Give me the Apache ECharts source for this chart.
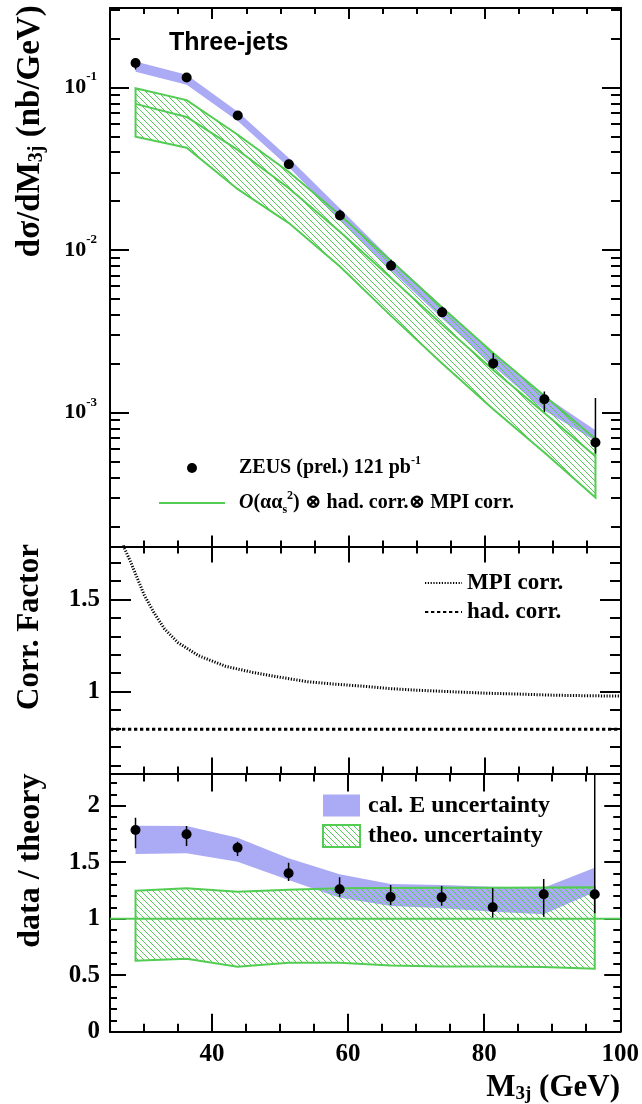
<!DOCTYPE html>
<html><head><meta charset="utf-8">
<script src="https://cdn.jsdelivr.net/npm/echarts@6/dist/echarts.min.js"></script>
<style>html,body{margin:0;padding:0;background:#fff}#chart{width:642px;height:1104px;background:#fff}</style>
</head><body><div id="chart"></div>
<script>
// ---------------- data ----------------
const massBins = [28.75, 36.25, 43.75, 51.25, 58.75, 66.25, 73.75, 81.25, 88.75, 96.25];
// cross section panel (nb/GeV)
const xsecData   = [0.1416, 0.1152, 0.0673, 0.0337, 0.01633, 0.00802, 0.00414, 0.00201, 0.00121, 0.000655];
const xsecErrHi  = [0.150, 0.120, 0.0695, 0.0360, 0.01773, 0.00873, 0.00449, 0.00232, 0.00135, 0.00123];
const xsecErrLo  = [0.129, 0.1083, 0.0643, 0.0322, 0.01549, 0.00754, 0.00388, 0.00184, 0.00101, 0.00056];
const xsecCalHi  = [0.1446, 0.1200, 0.0710, 0.0369, 0.01805, 0.00879, 0.00452, 0.00234, 0.00127, 0.00078];
const xsecCalLo  = [0.1248, 0.1041, 0.0622, 0.0323, 0.01537, 0.00748, 0.00380, 0.00194, 0.00103, 0.00067];
const theoCentral = [0.0793, 0.0659, 0.0413, 0.0240, 0.01296, 0.00673, 0.00348, 0.00183, 0.000995, 0.000539];
const theoHi      = [0.0990, 0.0836, 0.0512, 0.0302, 0.01645, 0.00856, 0.00443, 0.00233, 0.00127, 0.000689];
const theoLo      = [0.0498, 0.0426, 0.0237, 0.01466, 0.00792, 0.00394, 0.00201, 0.00105, 0.000569, 0.000301];
// correction factor panel
const mpiMass = [26.5, 27, 28, 29, 30, 31.5, 33, 35, 38, 42, 46, 50, 54, 58, 62, 66, 70, 75, 80, 85, 90, 95, 100];
const mpiCorr = [1.85, 1.785, 1.705, 1.615, 1.525, 1.425, 1.34, 1.265, 1.195, 1.137, 1.104, 1.078, 1.054, 1.041, 1.030, 1.017, 1.008, 1.000, 0.992, 0.987, 0.981, 0.978, 0.976];
const hadMass = [25, 100];
const hadCorr = [0.797, 0.797];
// data / theory panel
const ratioData   = [1.785, 1.747, 1.628, 1.402, 1.260, 1.192, 1.189, 1.101, 1.216, 1.216];
const ratioErrHi  = [1.894, 1.820, 1.681, 1.496, 1.366, 1.298, 1.289, 1.269, 1.351, 2.45];
const ratioErrLo  = [1.623, 1.643, 1.555, 1.334, 1.195, 1.121, 1.115, 1.009, 1.018, 1.048];
const ratioCalHi  = [1.823, 1.820, 1.717, 1.534, 1.393, 1.307, 1.298, 1.283, 1.274, 1.451];
const ratioCalLo  = [1.573, 1.579, 1.504, 1.342, 1.186, 1.112, 1.092, 1.062, 1.039, 1.236];
const ratioTheoHi = [1.248, 1.269, 1.239, 1.257, 1.269, 1.272, 1.274, 1.274, 1.276, 1.278];
const ratioTheoLo = [0.628, 0.646, 0.575, 0.611, 0.611, 0.585, 0.578, 0.576, 0.572, 0.558];
const unityMass = [25, 100];
const unityVal  = [1, 1];

// ---------------- style ----------------
const SERIF = "'Liberation Serif','DejaVu Serif',serif";
const SANS = "'Liberation Sans',Arial,sans-serif";
const GREEN = '#52cc52';
const BLUE = '#aaaaf5';
const DATA_NAME = 'ZEUS (prel.) 121 pb-1';
const THEO_NAME = 'O(αα_s^2) ⊗ had. corr. ⊗ MPI corr.';

function makeHatch() {
  const c = document.createElement('canvas');
  c.width = 6; c.height = 6;
  const g = c.getContext('2d');
  g.strokeStyle = GREEN; g.lineWidth = 1;
  g.beginPath();
  g.moveTo(-1, -1); g.lineTo(7, 7);
  g.moveTo(-1, 5); g.lineTo(1, 7);
  g.moveTo(5, -1); g.lineTo(7, 1);
  g.stroke();
  return c;
}
const hatch = {image: makeHatch(), repeat: 'repeat'};

function K() { return {color: '#000000', width: 2}; }
function lblFont(extra) { return Object.assign({fontFamily: SERIF, fontWeight: 'bold', fontSize: 25, color: '#000'}, extra || {}); }
function frame(extra) {
  return Object.assign({
    splitLine: {show: false},
    axisLine: {show: true, onZero: false, lineStyle: {color: '#000', width: 2}}
  }, extra);
}
const XR = {type: 'value', min: 25, max: 100, minInterval: 20, maxInterval: 20};
const xFmt = v => (Math.abs(v % 20) < 1e-9 ? String(v) : '');
function xPair(grid, major, minor, bottomExtra) {
  return [
    frame(Object.assign({}, XR, {gridIndex: grid, position: 'bottom', axisLabel: {show: false},
      axisTick: {show: true, inside: true, length: major, lineStyle: K()},
      minorTick: {show: true, splitNumber: 4, length: minor, lineStyle: K()}}, bottomExtra || {})),
    frame(Object.assign({}, XR, {gridIndex: grid, position: 'top', axisLabel: {show: false},
      axisTick: {show: true, inside: true, length: major, lineStyle: K()},
      minorTick: {show: true, splitNumber: 4, length: minor, lineStyle: K()}}))
  ];
}
function yPair(grid, scale, major, minor, split, leftExtra) {
  return [
    frame(Object.assign({}, scale, {gridIndex: grid, position: 'left',
      axisTick: {show: true, inside: true, length: major, lineStyle: K()},
      minorTick: {show: true, splitNumber: split, length: minor, lineStyle: K()}}, leftExtra)),
    frame(Object.assign({}, scale, {gridIndex: grid, position: 'right', axisLabel: {show: false},
      axisTick: {show: true, inside: true, length: major, lineStyle: K()},
      minorTick: {show: true, splitNumber: split, length: minor, lineStyle: K()}}))
  ];
}
// axis title centred on the axis, moved along it with asymmetric padding
function yName(text, gap, shiftUp, size, rich) {
  return {name: text, nameLocation: 'middle', nameGap: gap, nameRotate: 90,
    nameTextStyle: {fontFamily: SERIF, fontWeight: 'bold', fontSize: size, color: '#000', lineHeight: size + 1,
      padding: [0, 0, 0, 2 * shiftUp], rich: rich || {}}};
}
function isPow10(v) { const e = Math.log10(v); return Math.abs(e - Math.round(e)) < 1e-6; }

const xAxisList = [
  ...xPair(0, 11, 6),
  ...xPair(1, 16, 7),
  ...xPair(2, 18, 8, {
    axisLabel: lblFont({show: true, margin: 10, formatter: xFmt}),
    name: 'M{sub|3j} (GeV)', nameLocation: 'middle', nameGap: 40,
    nameTextStyle: {fontFamily: SERIF, fontWeight: 'bold', fontSize: 31, color: '#000', lineHeight: 32,
      padding: [0, 0, 0, 376],
      rich: {sub: {fontFamily: SERIF, fontWeight: 'bold', fontSize: 19, verticalAlign: 'bottom', lineHeight: 19}}}
  })
];
const yAxisList = [
  ...yPair(0, {type: 'log', logBase: 10, min: 1.503e-4, max: 0.3083}, 19, 10, 9, Object.assign({
    axisLabel: {show: true, margin: 13,
      formatter: v => isPow10(v) ? '{b|10}{s|' + Math.round(Math.log10(v)) + '}' : '',
      rich: {b: {fontFamily: SERIF, fontWeight: 'bold', fontSize: 22, lineHeight: 34, color: '#000'},
             s: {fontFamily: SERIF, fontWeight: 'bold', fontSize: 13, verticalAlign: 'top', color: '#000'}}}
  }, yName('dσ/dM{sub|3j} (nb/GeV)', 63, 146, 33,
      {sub: {fontFamily: SERIF, fontWeight: 'bold', fontSize: 20, verticalAlign: 'bottom', lineHeight: 20}}))),
  ...yPair(1, {type: 'value', min: 0.557, max: 1.786, minInterval: 0.5, maxInterval: 0.5}, 21, 11, 5, Object.assign({
    axisLabel: lblFont({show: true, margin: 10,
      formatter: v => (Math.abs(v - 1) < 1e-9 ? '1' : (Math.abs(v - 1.5) < 1e-9 ? '1.5' : ''))})
  }, yName('Corr. Factor', 64, 33, 31))),
  ...yPair(2, {type: 'value', min: 0, max: 2.285, minInterval: 0.5, maxInterval: 0.5}, 16, 7, 5, Object.assign({
    axisLabel: lblFont({show: true, margin: 10,
      formatter: v => (Math.abs(v * 2 - Math.round(v * 2)) < 1e-9 ? String(v) : '')})
  }, yName('data / theory', 63, 42, 32)))
];

function bandSeries(name, xi, yi, lo, hi, fill, stroke) {
  return {
    type: 'custom', name: name, xAxisIndex: xi, yAxisIndex: yi, clip: true, silent: true,
    itemStyle: {color: fill === hatch ? GREEN : fill},
    data: massBins.map((m, i) => [m, lo[i], hi[i]]),
    encode: {x: 0, y: [1, 2]},
    renderItem(params, api) {
      if (params.dataIndex !== 0) return null;
      const pts = [];
      for (let i = 0; i < massBins.length; i++) pts.push(api.coord([massBins[i], hi[i]]));
      for (let i = massBins.length - 1; i >= 0; i--) pts.push(api.coord([massBins[i], lo[i]]));
      return {type: 'polygon', shape: {points: pts},
        style: {fill: fill, stroke: stroke || null, lineWidth: stroke ? 2 : 0, lineJoin: 'miter'}};
    }
  };
}
function errSeries(xi, yi, lo, hi) {
  return {
    type: 'custom', xAxisIndex: xi, yAxisIndex: yi, clip: true, silent: true,
    data: massBins.map((m, i) => [m, lo[i], hi[i]]),
    encode: {x: 0, y: [1, 2]},
    renderItem(params, api) {
      const a = api.coord([api.value(0), api.value(1)]);
      const b = api.coord([api.value(0), api.value(2)]);
      return {type: 'line', shape: {x1: a[0], y1: a[1], x2: b[0], y2: b[1]},
        style: {stroke: '#000', lineWidth: 1.5}};
    }
  };
}
function pointSeries(name, xi, yi, vals) {
  return {type: 'scatter', name: name, xAxisIndex: xi, yAxisIndex: yi, symbol: 'circle', symbolSize: 10,
    itemStyle: {color: '#000', opacity: 1}, z: 3, data: massBins.map((m, i) => [m, vals[i]])};
}
function lineSeries(name, xi, yi, xs, ys, style) {
  return {type: 'line', name: name, xAxisIndex: xi, yAxisIndex: yi, symbol: 'none', showSymbol: false,
    clip: true, silent: true, itemStyle: {color: style.color}, lineStyle: style,
    data: xs.map((x, i) => [x, ys[i]])};
}

function legendText(extra) { return Object.assign({fontFamily: SERIF, fontWeight: 'bold', color: '#000'}, extra || {}); }
const noSymbol = {color: 'rgba(0,0,0,0)', borderWidth: 0};

const option = {
  animation: false,
  title: {text: 'Three-jets', left: 164, top: 26,
    textStyle: {fontFamily: SANS, fontWeight: 'bold', fontSize: 25, color: '#000'}},
  grid: [
    {left: 110, right: 21, top: 8, height: 538.5, outerBoundsContain: 'axisLabel'},
    {left: 110, right: 21, top: 546.5, height: 227, outerBoundsContain: 'axisLabel'},
    {left: 110, right: 21, top: 773.5, height: 258.2, outerBoundsContain: 'axisLabel'}
  ],
  xAxis: xAxisList,
  yAxis: yAxisList,
  legend: [
    {left: 158, top: 455, padding: 0, orient: 'vertical', itemWidth: 66, itemHeight: 10, itemGap: 9, selectedMode: false,
      data: [{name: DATA_NAME, icon: 'circle', itemStyle: {color: '#000', opacity: 1}}, {name: THEO_NAME, itemStyle: noSymbol}],
      formatter: n => n === DATA_NAME ? 'ZEUS (prel.) 121 pb{sup|-1}' : '{it|O}(αα{sub|s}{sup|2}) ⊗ had. corr.⊗ MPI corr.',
      textStyle: legendText({fontSize: 20, lineHeight: 26, padding: [0, 0, 0, 9],
        rich: {sup: legendText({fontSize: 12, verticalAlign: 'top'}),
               sub: legendText({fontSize: 12, verticalAlign: 'bottom'}),
               it: legendText({fontSize: 20, fontStyle: 'italic'})}})},
    {left: 424, top: 570, padding: 0, orient: 'vertical', itemWidth: 37, itemHeight: 14, itemGap: 3, selectedMode: false,
      data: [{name: 'MPI corr.', itemStyle: noSymbol}, {name: 'had. corr.', itemStyle: noSymbol}],
      textStyle: legendText({fontSize: 23, lineHeight: 26})},
    {left: 322, top: 792.5, padding: 0, orient: 'vertical', itemWidth: 37, itemHeight: 22, itemGap: 4.5, selectedMode: false,
      data: [{name: 'cal. E uncertainty', icon: 'rect', itemStyle: {color: BLUE, borderWidth: 0}},
             {name: 'theo. uncertainty', icon: 'rect', itemStyle: {color: hatch, borderColor: GREEN, borderWidth: 2}}],
      textStyle: legendText({fontSize: 24, lineHeight: 26, padding: [0, 0, 0, 3]})}
  ],
  series: [
    // cross section panel
    bandSeries('cal. E band', 0, 0, xsecCalLo, xsecCalHi, BLUE, null),
    bandSeries('theory band', 0, 0, theoLo, theoHi, hatch, GREEN),
    lineSeries(THEO_NAME, 0, 0, massBins, theoCentral, {color: GREEN, width: 2}),
    errSeries(0, 0, xsecErrLo, xsecErrHi),
    pointSeries(DATA_NAME, 0, 0, xsecData),
    // correction factors
    lineSeries('MPI corr.', 2, 2, mpiMass, mpiCorr, {color: '#000', width: 3, type: [1.2, 1.6]}),
    lineSeries('had. corr.', 2, 2, hadMass, hadCorr, {color: '#000', width: 3, type: [3.3, 2.7]}),
    // ratio panel
    bandSeries('cal. E uncertainty', 4, 4, ratioCalLo, ratioCalHi, BLUE, null),
    bandSeries('theo. uncertainty', 4, 4, ratioTheoLo, ratioTheoHi, hatch, GREEN),
    lineSeries('theory = 1', 4, 4, unityMass, unityVal, {color: GREEN, width: 2}),
    errSeries(4, 4, ratioErrLo, ratioErrHi),
    pointSeries('data / theory', 4, 4, ratioData)
  ]
};

const chart = echarts.init(document.getElementById('chart'));
chart.setOption(option);
</script>
</body></html>
